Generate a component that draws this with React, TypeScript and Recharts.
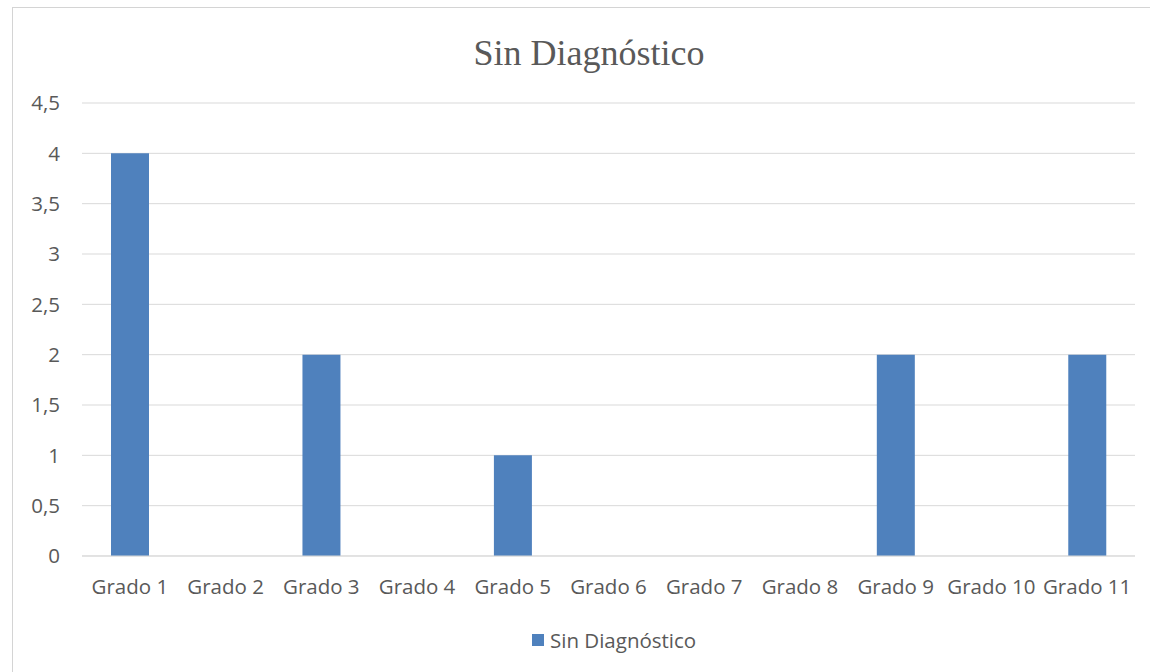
import { Bar, BarChart, CartesianGrid, XAxis, YAxis } from "recharts";

const grados = ["Grado 1", "Grado 2", "Grado 3", "Grado 4", "Grado 5", "Grado 6", "Grado 7", "Grado 8", "Grado 9", "Grado 10", "Grado 11"];
const sinDiagnostico = [4, 0, 2, 0, 1, 0, 0, 0, 2, 0, 2];
const yTicks = [0, 0.5, 1, 1.5, 2, 2.5, 3, 3.5, 4, 4.5];

const data = grados.map((g, i) => ({ grado: g, valor: sinDiagnostico[i] }));

const gray = "#595959";
const font = "'Open Sans', sans-serif";
const fs = 20.5;
const frame = "#d4d4d4";

export default function App() {
  return (
    <div style={{ position: "fixed", left: 0, top: 0, width: 1150, height: 672, overflow: "hidden", background: "#fff" }}>
      {/* chart frame: top and left edges (right and bottom fall outside the picture) */}
      <div style={{ position: "absolute", left: 12, top: 7, width: 1138, height: 1, background: frame }} />
      <div style={{ position: "absolute", left: 12, top: 7, width: 1, height: 665, background: frame }} />
      <div
        style={{
          position: "absolute",
          left: 0,
          top: 32,
          width: 1178,
          textAlign: "center",
          fontFamily: "'Liberation Serif', 'Times New Roman', serif",
          fontSize: 36,
          color: gray,
        }}
      >
        Sin Diagnóstico
      </div>
      <div style={{ position: "absolute", left: 0, top: 0 }}>
        <BarChart width={1150} height={672} data={data} margin={{ top: 103, right: 15, bottom: 86, left: 0 }}>
          <CartesianGrid vertical={false} stroke="#d9d9d9" />
          <XAxis
            dataKey="grado"
            height={30}
            stroke="#d9d9d9"
            tickLine={false}
            tickSize={0}
            tickMargin={23}
            interval={0}
            tick={{ fill: gray, fontFamily: font, fontSize: fs }}
          />
          <YAxis
            width={82}
            domain={[0, 4.5]}
            ticks={yTicks}
            axisLine={false}
            tickLine={false}
            tickSize={0}
            tickMargin={22}
            tickFormatter={(v: number) => String(v).replace(".", ",")}
            tick={{ fill: gray, fontFamily: font, fontSize: fs }}
          />
          <Bar dataKey="valor" name="Sin Diagnóstico" fill="#4f81bd" barSize={38} isAnimationActive={false} />
        </BarChart>
      </div>
      <div
        style={{
          position: "absolute",
          left: 532,
          top: 626,
          display: "flex",
          alignItems: "center",
          fontFamily: font,
          fontSize: fs,
          color: gray,
          whiteSpace: "nowrap",
        }}
      >
        <span style={{ width: 12, height: 12, background: "#4f81bd", display: "inline-block", marginRight: 6 }} />
        Sin Diagnóstico
      </div>
    </div>
  );
}
